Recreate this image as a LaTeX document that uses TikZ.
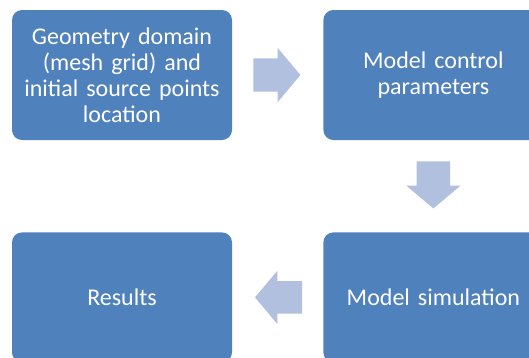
\documentclass[tikz,border=0pt]{standalone}
\usepackage{fontspec}
\setmainfont{Carlito}
\usetikzlibrary{positioning, calc, shapes.arrows}
\definecolor{boxblue}{RGB}{79,129,189}
\definecolor{arrowblue}{RGB}{176,192,222}
\tikzset{
  stepbox/.style={fill=boxblue, rounded corners=10pt, minimum width=220pt, minimum height=130pt,
    text width=210pt, align=center, text=white, font=\fontsize{24}{26}\selectfont, inner sep=0pt},
  flowarrow/.style={single arrow, fill=arrowblue, inner sep=0pt, minimum height=47pt,
    single arrow head extend=10.5pt, single arrow tip angle=100, anchor=tail},
}
\begin{document}
\begin{tikzpicture}[x=1pt, y=1pt]
  \useasboundingbox (0,0) rectangle (529,-357);
  \node[stepbox] (geom) at (122,-75) {Geometry domain\\(mesh grid) and\\initial source points\\location};
  \node[stepbox, right=91pt of geom] (ctrl) {Model control\\parameters};
  \node[stepbox, below=92pt of ctrl] (sim) {Model simulation};
  \node[stepbox, left=91pt of sim] (res) {Results};
%
  \node[flowarrow, inner ysep=16.5pt] (a1) at ($(geom.east)+(21,0)$) {};
  \node[flowarrow, inner xsep=16.5pt, shape border rotate=270] (a2) at ($(ctrl.south)+(0,-21)$) {};
  \node[flowarrow, inner ysep=16pt, shape border rotate=180] (a3) at ($(sim.west)+(-21,0)$) {};
\end{tikzpicture}
\end{document}
